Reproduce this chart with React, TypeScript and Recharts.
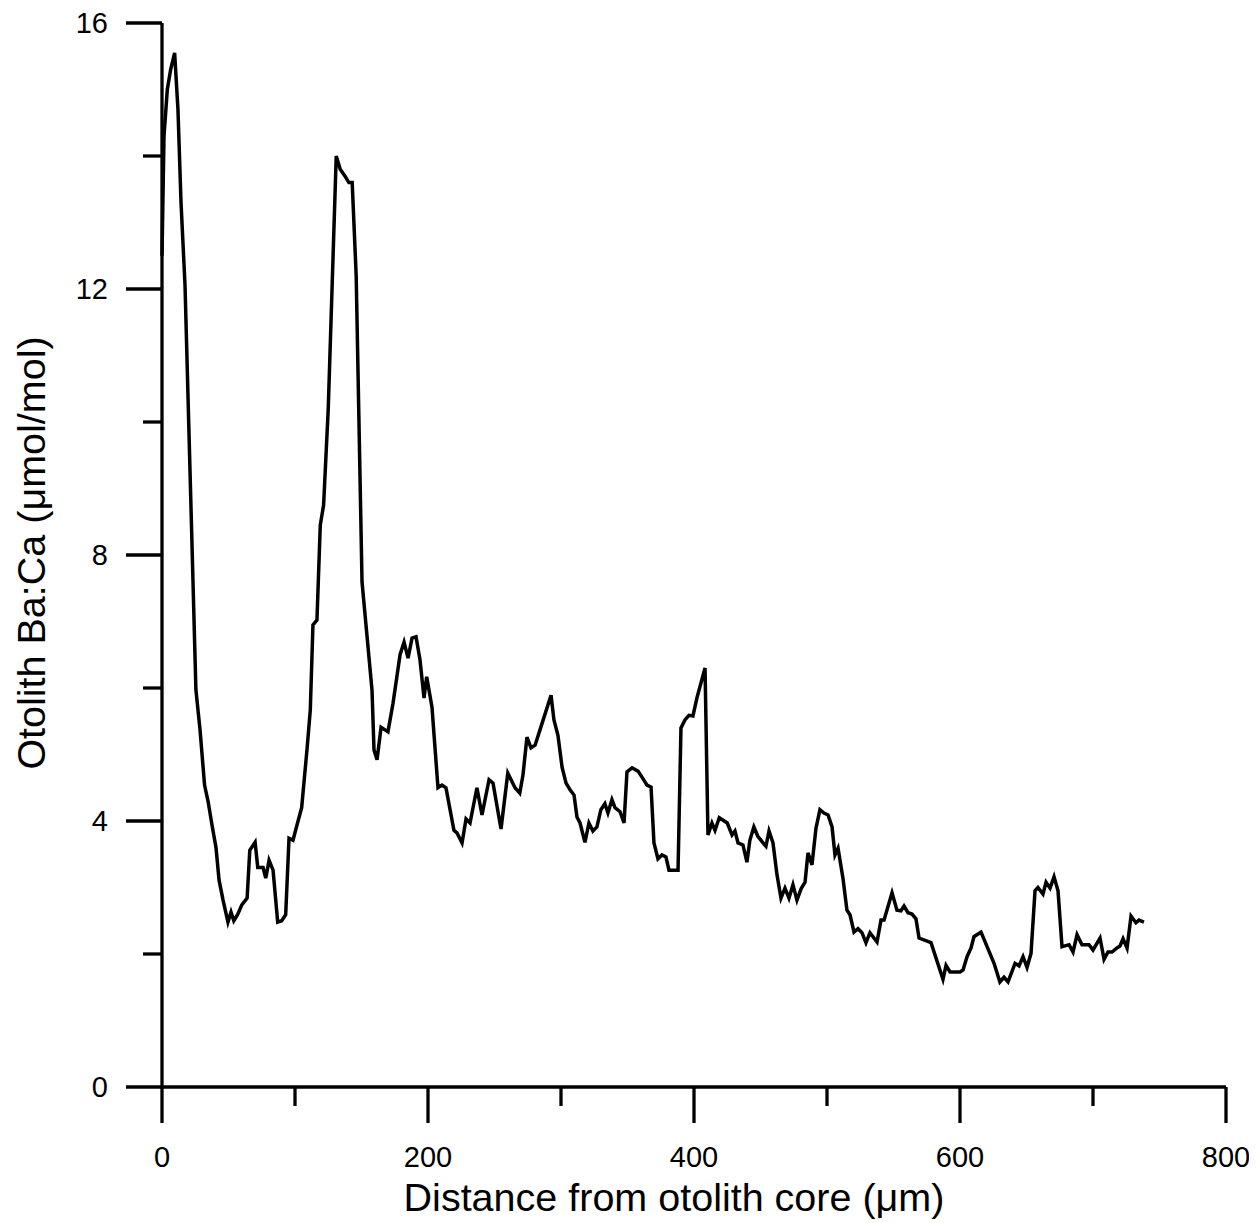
import React from 'react';
import { LineChart, Line, XAxis, YAxis, Label } from 'recharts';

const distance = [
  0, 1.5, 4, 6.5, 9.5, 12, 14.3, 17.3, 25.5, 28.6, 32, 34.6, 37.6, 40.6, 42.9, 45.9, 49.6, 51.9, 54, 57,
  60, 64, 66, 70, 72, 76, 78, 80.5, 83.5, 87, 90, 93, 95.5, 98.5, 101.5, 105, 109, 111.5, 113.5, 116.5,
  119, 121.5, 125, 128, 131, 134, 137.5, 140.5, 143, 146, 150.4, 157.9, 159.4, 161.7, 164.7, 167.7, 169.9, 173.7, 179, 182,
  185, 188, 191, 194, 197, 199, 203, 207.5, 210.5, 213.5, 219.5, 221.8, 225.6, 228.6, 231.6, 236.8, 240.6, 245.9, 248.9, 254.9,
  260, 265.4, 269, 271.4, 274.4, 277.4, 280.5, 284.2, 292.5, 294.7, 297.7, 300.8, 303.8, 306.8, 309.8, 312, 314.3, 318, 321, 324,
  327, 330, 333, 335.3, 338.3, 340.6, 344.4, 347.4, 349.6, 353.4, 357.9, 360.9, 364.7, 367.7, 369.9, 372.9, 375.9, 378.9, 381.2, 388,
  390.2, 393.2, 396.2, 399.2, 402.3, 408.3, 410.5, 413.5, 415.8, 419, 425, 428.6, 430.8, 433.1, 436.8, 439.8, 442, 445, 448, 451.9,
  454.1, 456.4, 459.4, 462.4, 465.4, 468.4, 471.4, 474.4, 477.4, 480.5, 483.5, 485.7, 488.7, 491.7, 494.7, 497.7, 500.8, 503.8, 506, 508.3,
  512, 515, 517.3, 520.3, 523.3, 526.3, 529.3, 532.3, 537.6, 540.6, 542.9, 545.1, 548.9, 552.6, 555.6, 557.9, 560.9, 563.9, 566.9, 569.2,
  578.2, 587.2, 589.5, 592.5, 600, 602.3, 605.3, 608.3, 610.5, 615.8, 625.6, 630, 633.1, 636.1, 641.4, 644.4, 647.4, 650.4, 653.4, 656.4,
  658.6, 662.4, 664.7, 667.7, 670.7, 673.7, 676.7, 682, 685, 688, 691.7, 697, 700, 705.3, 708.3, 711.3, 714.3, 718, 720.3, 722.6,
  725.6, 728.6, 732.3, 734.6, 738.3,
];

const baCa = [
  12.5, 14.3, 15.0, 15.3, 15.55, 14.7, 13.3, 12.06, 5.97, 5.37, 4.54, 4.3, 3.94, 3.6, 3.11, 2.81, 2.48, 2.63, 2.5, 2.6,
  2.74, 2.84, 3.56, 3.68, 3.3, 3.3, 3.14, 3.41, 3.26, 2.48, 2.5, 2.59, 3.74, 3.71, 3.94, 4.2, 5.07, 5.67, 6.95, 7.02,
  8.45, 8.75, 10.2, 12.1, 14.0, 13.8, 13.7, 13.6, 13.6, 12.2, 7.59, 5.97, 5.07, 4.92, 5.41, 5.37, 5.34, 5.77, 6.5, 6.69,
  6.45, 6.75, 6.77, 6.42, 5.85, 6.17, 5.71, 4.5, 4.54, 4.5, 3.86, 3.82, 3.67, 4.03, 3.97, 4.5, 4.09, 4.62, 4.57, 3.88,
  4.72, 4.5, 4.42, 4.69, 5.26, 5.1, 5.14, 5.37, 5.89, 5.52, 5.29, 4.81, 4.57, 4.47, 4.39, 4.06, 3.97, 3.68, 3.97, 3.85,
  3.91, 4.17, 4.26, 4.12, 4.32, 4.2, 4.14, 3.97, 4.74, 4.8, 4.75, 4.66, 4.54, 4.51, 3.67, 3.43, 3.49, 3.46, 3.26, 3.26,
  5.4, 5.52, 5.59, 5.58, 5.86, 6.3, 3.79, 3.97, 3.86, 4.05, 3.97, 3.79, 3.85, 3.67, 3.64, 3.38, 3.71, 3.91, 3.77, 3.67,
  3.62, 3.85, 3.67, 3.19, 2.84, 2.99, 2.84, 3.04, 2.81, 2.98, 3.08, 3.52, 3.34, 3.89, 4.17, 4.12, 4.09, 3.91, 3.49, 3.59,
  3.14, 2.66, 2.59, 2.33, 2.38, 2.32, 2.17, 2.32, 2.18, 2.51, 2.51, 2.66, 2.92, 2.66, 2.65, 2.72, 2.62, 2.6, 2.53, 2.24,
  2.17, 1.62, 1.83, 1.73, 1.73, 1.76, 1.96, 2.09, 2.26, 2.33, 1.86, 1.58, 1.65, 1.58, 1.86, 1.82, 1.96, 1.8, 2.01, 2.95,
  3.0, 2.9, 3.08, 2.99, 3.16, 2.95, 2.11, 2.14, 2.03, 2.29, 2.14, 2.14, 2.06, 2.24, 1.92, 2.03, 2.03, 2.09, 2.12, 2.23,
  2.09, 2.57, 2.47, 2.51, 2.48,
];

const xTicks = [0, 100, 200, 300, 400, 500, 600, 700, 800];
const xMajorTicks = [0, 200, 400, 600, 800];
const yTicks = [0, 2, 4, 6, 8, 10, 12, 14, 16];
const yMajorTicks = [0, 4, 8, 12, 16];

const xTitle = 'Distance from otolith core (\u03bcm)';
const yTitle = 'Otolith Ba:Ca (\u03bcmol/mol)';

const data = distance.map((d, i) => ({ d, v: baCa[i] }));

const FONT = '"Liberation Sans", Arial, Helvetica, sans-serif';
const MAJOR = 36;
const MINOR = 19;
const AXIS_W = 3.3;

const XTick = (props: any) => {
  const { x, y, payload } = props;
  const major = xMajorTicks.includes(payload.value);
  return (
    <g>
      <line x1={x} x2={x} y1={y} y2={y + (major ? MAJOR : MINOR)} stroke="#000" strokeWidth={AXIS_W} />
      {major && (
        <text x={x} y={y + 80} textAnchor="middle" fontSize={29} fontFamily={FONT} fill="#000">
          {payload.value}
        </text>
      )}
    </g>
  );
};

const YTick = (props: any) => {
  const { x, y, payload } = props;
  const major = yMajorTicks.includes(payload.value);
  return (
    <g>
      <line x1={x} x2={x - (major ? MAJOR : MINOR)} y1={y} y2={y} stroke="#000" strokeWidth={AXIS_W} />
      {major && (
        <text x={x - 54} y={y} dy="0.35em" textAnchor="end" fontSize={29} fontFamily={FONT} fill="#000">
          {payload.value}
        </text>
      )}
    </g>
  );
};

export default function App() {
  return (
    <LineChart
      width={1249}
      height={1215}
      data={data}
      margin={{ top: 15, right: 31, bottom: 0, left: 0 }}
    >
      <XAxis
        dataKey="d"
        type="number"
        domain={[0, 800]}
        ticks={xTicks}
        interval={0}
        height={136}
        tickSize={0}
        tickMargin={0}
        tickLine={false}
        axisLine={{ stroke: '#000', strokeWidth: AXIS_W }}
        tick={<XTick />}
      >
        <Label
          content={() => (
            <text x={666} y={1203} textAnchor="middle" fontSize={39.5} fontFamily={FONT} fill="#000">
              {xTitle}
            </text>
          )}
        />
      </XAxis>
      <YAxis
        type="number"
        domain={[0, 16]}
        ticks={yTicks}
        interval={0}
        width={154}
        tickSize={0}
        tickMargin={0}
        tickLine={false}
        axisLine={{ stroke: '#000', strokeWidth: AXIS_W }}
        tick={<YTick />}
      >
        <Label
          content={() => (
            <text
              x={37}
              y={545}
              transform="rotate(-90 37 545)"
              textAnchor="middle"
              fontSize={39.5}
              fontFamily={FONT}
              fill="#000"
            >
              {yTitle}
            </text>
          )}
        />
      </YAxis>
      <Line
        type="linear"
        dataKey="v"
        stroke="#000"
        strokeWidth={3.5}
        dot={false}
        isAnimationActive={false}
      />
    </LineChart>
  );
}
